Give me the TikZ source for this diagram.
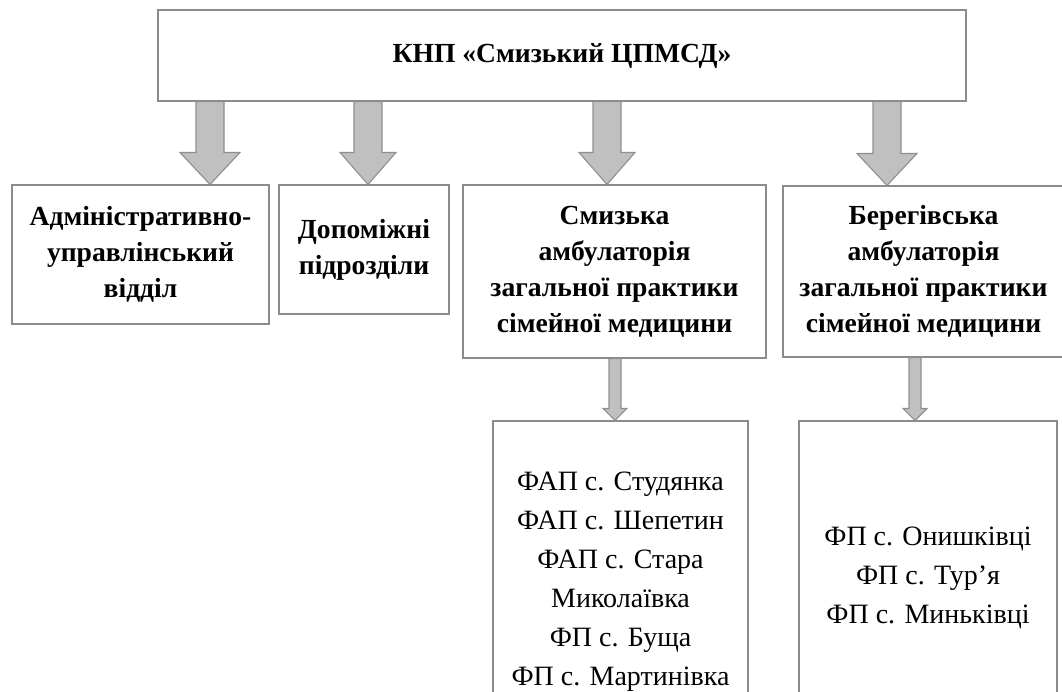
\documentclass[tikz,border=0pt]{standalone}
\usepackage{fontspec}
\setmainfont{Liberation Serif}
\usetikzlibrary{calc}

\definecolor{boxgray}{HTML}{8C8C8C}
\definecolor{arrowfill}{HTML}{C0C0C0}
\definecolor{arrowline}{HTML}{8F8F8F}

% block arrow: x, from node, to node, shaft half width, head half width, head length
\newcommand{\blockarrow}[6]{%
  \draw[block arrow] let \p1=(#1,0 |- #2.south), \p2=(#1,0 |- #3.north) in
    (\x1-#4pt,\y1) -- (\x1+#4pt,\y1) -- (\x1+#4pt,\y2+#6pt) -- (\x1+#5pt,\y2+#6pt)
    -- (\x1,\y2) -- (\x1-#5pt,\y2+#6pt) -- (\x1-#4pt,\y2+#6pt) -- cycle;
}

\begin{document}
\begin{tikzpicture}[x=1pt,y=-1pt]

\tikzset{
  unit box/.style={
    draw=boxgray,
    line width=1.1pt,
    fill=white,
    inner sep=0pt,
    align=center,
    font=\fontsize{27.6}{36}\selectfont\bfseries,
  },
  list box/.style={
    unit box,
    font=\fontsize{28}{39}\selectfont,
  },
  block arrow/.style={
    draw=arrowline,
    fill=arrowfill,
    line width=1.1pt,
    line join=miter,
  }
}

  \useasboundingbox (0,0) rectangle (1062,691);

  % Level 0
  \node[unit box, minimum width=808pt, minimum height=91pt] (knp) at (562,55.5)
    {КНП «Смизький ЦПМСД»};

  % Level 1
  \node[unit box, minimum width=257pt, minimum height=139pt] (admin) at (140.5,254.5)
    {Адміністративно-\\управлінський\\відділ};
  \node[unit box, minimum width=170pt, minimum height=129pt] (dop) at (364,249.5)
    {Допоміжні\\підрозділи};
  \node[unit box, minimum width=303pt, minimum height=173pt] (smyz) at (614.5,271.5)
    {Смизька\\амбулаторія\\загальної практики\\сімейної медицини};
  \node[unit box, minimum width=281pt, minimum height=171pt] (bereg) at (923.5,271.5)
    {Берегівська\\амбулаторія\\загальної практики\\сімейної медицини};

  % Level 2
  \node[list box, minimum width=255pt, minimum height=322pt] (smyzfap) at (620.5,582)
    {ФАП с. Студянка\\ФАП с. Шепетин\\ФАП с. Стара\\Миколаївка\\ФП с. Буща\\ФП с. Мартинівка};
  \node[list box, minimum width=258pt, minimum height=314pt] (beregfp) at (928,578)
    {ФП с. Онишківці\\ФП с. Тур’я\\ФП с. Миньківці};

  % Arrows
  \blockarrow{210}{knp}{admin}{14}{30}{32}
  \blockarrow{368}{knp}{dop}{14}{28}{32}
  \blockarrow{607}{knp}{smyz}{14}{28}{32}
  \blockarrow{887}{knp}{bereg}{14}{30}{32}

  \blockarrow{615}{smyz}{smyzfap}{6}{12}{12}
  \blockarrow{915}{bereg}{beregfp}{6}{12}{12}
\end{tikzpicture}
\end{document}
